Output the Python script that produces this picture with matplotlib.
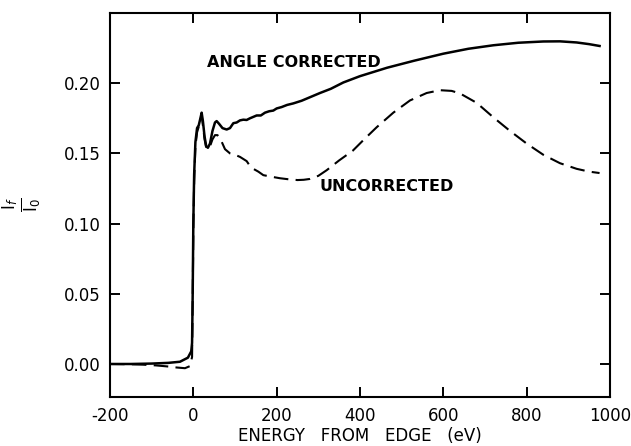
import matplotlib.pyplot as plt

# fluorescence ratio If/I0 vs energy above the edge
energy_corr = [-200, -150, -100, -60, -32, -13, -5, -3, -1.5, 0, 2, 5, 9, 13, 17, 20,
               23, 27, 31, 35, 40, 46, 52, 56, 62, 70, 80, 88, 96, 104, 112, 120,
               128, 136, 144, 152, 162, 172, 182, 192, 200, 212, 225, 240, 260, 280,
               304, 330, 360, 400, 465, 530, 600, 660, 720, 780, 840, 880, 920, 950, 975]
ratio_corr = [0.000, 0.000, 0.0003, 0.0008, 0.0016, 0.0045, 0.009, 0.015, 0.05, 0.10,
              0.135, 0.158, 0.168, 0.170, 0.175, 0.179,
              0.173, 0.162, 0.155, 0.154, 0.157, 0.166, 0.172, 0.173, 0.171, 0.168,
              0.167, 0.168, 0.1715, 0.172, 0.1735, 0.174,
              0.1738, 0.175, 0.176, 0.177, 0.177, 0.179, 0.180, 0.1805, 0.182, 0.183,
              0.1845, 0.1856, 0.1875, 0.190,
              0.193, 0.196, 0.2005, 0.205, 0.211, 0.216, 0.221, 0.2245, 0.227, 0.2288,
              0.2297, 0.2298, 0.229, 0.2278, 0.2265]

energy_unc = [-200, -150, -120, -90, -60, -40, -20, -8, -3, -1.5, 0, 2, 5, 9, 13, 17, 20,
              23, 27, 31, 35, 40, 46, 52, 58, 64, 70, 76, 88, 100, 112, 120, 128, 136,
              144, 156, 168, 185, 208, 230, 250, 265, 280, 300, 320, 350, 383, 410, 440,
              480, 520, 560, 592, 620, 640, 680, 720, 760, 800, 840, 880, 920, 950, 975]
ratio_unc = [0.000, -0.0002, -0.0005, -0.001, -0.0018, -0.0025, -0.003, -0.0015, 0.005,
             0.045, 0.095, 0.13, 0.155, 0.165, 0.169, 0.174, 0.177,
             0.170, 0.160, 0.154, 0.153, 0.155, 0.160, 0.163, 0.163, 0.161, 0.157, 0.153,
             0.150, 0.149, 0.1475, 0.146, 0.1445, 0.141,
             0.139, 0.137, 0.1345, 0.1335, 0.1323, 0.1315, 0.131, 0.1312, 0.1318, 0.134,
             0.138, 0.145, 0.152, 0.160, 0.1686,
             0.179, 0.1877, 0.193, 0.195, 0.1945, 0.1927, 0.186, 0.1757, 0.166, 0.157,
             0.149, 0.143, 0.139, 0.137, 0.136]

xticks = [-200, 0, 200, 400, 600, 800, 1000]
yticks = [0.00, 0.05, 0.10, 0.15, 0.20]

fig = plt.figure(figsize=(6.31, 4.46), dpi=100)
ax = fig.add_axes([0.1743, 0.1099, 0.7924, 0.861])

ax.plot(energy_corr, ratio_corr, color='black', lw=1.8)
ax.plot(energy_unc, ratio_unc, color='black', lw=1.5, dashes=(7, 3.5))

ax.set_xlim(-200, 1000)
ax.set_ylim(-0.0235, 0.25)
ax.set_xticks(xticks)
ax.set_xticklabels([str(t) for t in xticks])
ax.set_yticks(yticks)
ax.set_yticklabels(['%.2f' % t for t in yticks])

for s in ax.spines.values():
    s.set_linewidth(1.5)
ax.tick_params(direction='in', length=7, width=1.4, top=True, right=True,
               labelsize=12, pad=7)

ax.text(33, 0.2147, 'ANGLE CORRECTED', fontsize=11.5, fontweight='bold', va='center')
ax.text(304, 0.1266, 'UNCORRECTED', fontsize=11.5, fontweight='bold', va='center')

ax.set_xlabel('ENERGY   FROM   EDGE   (eV)', fontsize=12, labelpad=2)
# rotated fraction label on the left
ax.text(-0.176, 0.5, r'$\frac{\mathrm{I}_f}{\mathrm{I}_0}$', fontsize=17, rotation=90,
        ha='center', va='center', transform=ax.transAxes)

fig.savefig('out.png', dpi=100)
